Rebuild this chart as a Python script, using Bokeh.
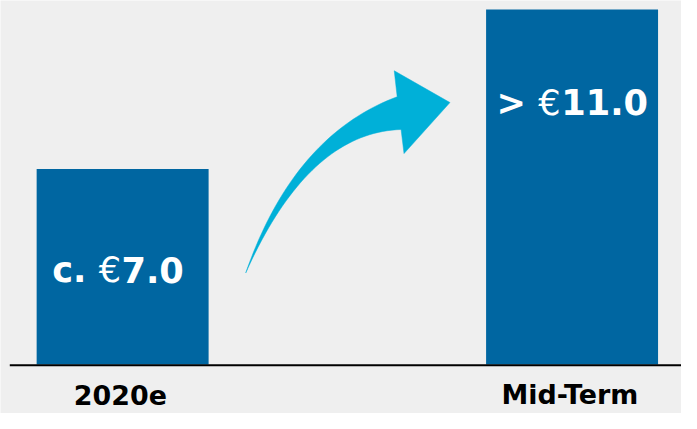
from bokeh.plotting import figure
from bokeh.models import Range1d, ColumnDataSource
from bokeh.core.properties import value
from bokeh.embed import file_html
from bokeh.resources import INLINE

# ---- data ----
CATEGORIES = ["2020e", "Mid-Term"]
VALUES = [7.0, 11.0]
PREFIXES = ["c.", ">"]
CURRENCY = "€"
AXIS_BASE = 2.1   # truncated value axis: bars rise from this level

# ---- styles / layout ----
BAR_COLOR = "#0066A1"
ARROW_COLOR = "#00B0D8"
BG = "#EFEFEF"
FONT = "DejaVu Sans"
W, H = 681, 413
REF_W, REF_H = 697, 429           # design frame in reference pixels
SX, SY = W / REF_W, H / REF_H     # screen px per reference px
BASELINE_FIX = 0.42               # em: lift text so its alphabetic baseline lands where intended
# mapping of data to reference pixels
CENTER0_PX, STEP_PX, BAR_PX = 125.0, 460.0, 176.0
BASE_PX, PX_PER_UNIT = 378.0, (378.0 - 175.0) / (7.0 - AXIS_BASE)

x_start = (0 - CENTER0_PX) / STEP_PX
x_end = (REF_W - CENTER0_PX) / STEP_PX
y_start = AXIS_BASE - (REF_H - BASE_PX) / PX_PER_UNIT
y_end = AXIS_BASE + (BASE_PX - 0) / PX_PER_UNIT

p = figure(width=W, height=H, output_backend="svg", toolbar_location=None,
           x_range=Range1d(x_start, x_end), y_range=Range1d(y_start, y_end),
           min_border=0, outline_line_color=None,
           background_fill_color=BG, border_fill_color=BG)
p.axis.visible = False
p.grid.visible = False
p.extra_x_ranges = {"px": Range1d(0, REF_W)}
p.extra_y_ranges = {"px": Range1d(REF_H, 0)}

idx = list(range(len(CATEGORIES)))

# bars
p.vbar(x=idx, top=VALUES, bottom=AXIS_BASE, width=BAR_PX / STEP_PX,
       fill_color=BAR_COLOR, line_color=None)

# baseline
p.segment(x0=[(9.5 - CENTER0_PX) / STEP_PX], x1=[x_end + 1],
          y0=[AXIS_BASE - 1.0 / PX_PER_UNIT], y1=[AXIS_BASE - 1.0 / PX_PER_UNIT],
          line_color="black", line_width=2)

# value labels (bold prefix, regular euro sign, bold number)
FS = 36 * SX
adv_bold = {"c": 0.593, ".": 0.380, ">": 0.838, "0": 0.696, "1": 0.696, "7": 0.696}
adv_space = 0.348 * FS
adv_euro = 0.636 * FS
label_shift = [-5 * SX, 0]
label_drop = [120 * SY - BASELINE_FIX * FS, 112 * SY - BASELINE_FIX * FS]
nums = [f"{v:.1f}" for v in VALUES]
euro_off, pre_off, num_off = [], [], []
for i in idx:
    wp = sum(adv_bold[c] for c in PREFIXES[i]) * FS
    wn = sum(adv_bold[c] for c in nums[i]) * FS
    total = wp + adv_space + adv_euro + wn
    e = -total / 2 + wp + adv_space + label_shift[i]
    euro_off.append(e)
    pre_off.append(e - adv_space)
    num_off.append(e + adv_euro + 0.5)

src = ColumnDataSource(dict(x=idx, y=VALUES, pre=PREFIXES, num=nums,
                            eur=[CURRENCY] * len(idx), eo=euro_off, po=pre_off,
                            no=num_off, yo=label_drop))
common = dict(x="x", y="y", y_offset="yo", text_baseline="alphabetic",
              text_color="white", text_font=value(FONT),
              text_font_size=f"{FS:.1f}px", source=src)
p.text(text="pre", x_offset="po", text_align="right", text_font_style="bold", **common)
p.text(text="eur", x_offset="eo", text_align="left", text_font_style="normal", **common)
p.text(text="num", x_offset="no", text_align="left", text_font_style="bold", **common)

# category labels
CFS = 27.5 * SX
p.text(x=[i - 0.005 for i in idx], y=[AXIS_BASE - (421 - BASE_PX) / PX_PER_UNIT] * len(idx),
       y_offset=-BASELINE_FIX * CFS,
       text=CATEGORIES, text_align="center", text_baseline="alphabetic",
       text_color="black", text_font=value(FONT), text_font_style="bold",
       text_font_size=f"{CFS:.1f}px")

# curved arrow (decoration, drawn in reference-pixel space)
def qbez(p0, c, p2, n=40):
    pts = []
    for k in range(n + 1):
        t = k / n
        a, b, d = (1 - t) ** 2, 2 * (1 - t) * t, t ** 2
        pts.append((a * p0[0] + b * c[0] + d * p2[0], a * p0[1] + b * c[1] + d * p2[1]))
    return pts

tail = (251, 283)
upper = qbez(tail, (300, 140), (406, 100))
lower = qbez((410, 134), (315, 137), tail)
head = [(403, 73), (460, 106), (413, 159)]
outline = upper + head + lower
p.patch(x=[q[0] for q in outline], y=[q[1] for q in outline],
        x_range_name="px", y_range_name="px",
        fill_color=ARROW_COLOR, line_color=ARROW_COLOR, line_width=0.5)

open("out.html", "w").write(file_html(p, INLINE))
